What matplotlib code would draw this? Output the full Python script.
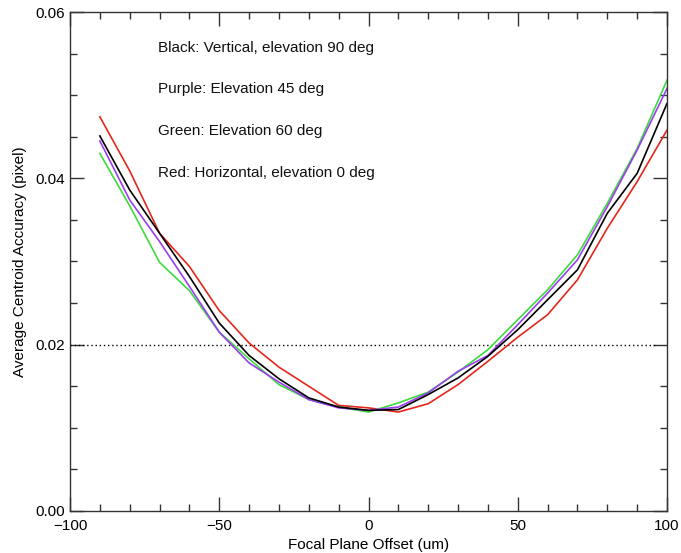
import matplotlib
matplotlib.use("Agg")
import matplotlib.pyplot as plt
from matplotlib.ticker import MultipleLocator

plt.rcParams['font.family'] = ['Liberation Sans', 'DejaVu Sans']

offset = [-90, -80, -70, -60, -50, -40, -30, -20, -10, 0, 10, 20, 30, 40, 50, 60, 70, 80, 90, 100]

black = [0.0451, 0.0386, 0.0334, 0.0282, 0.0226, 0.0187, 0.0159, 0.0136, 0.0125, 0.0121,
         0.0122, 0.0140, 0.0160, 0.0186, 0.0218, 0.0254, 0.0290, 0.0358, 0.0406, 0.0490]
purple = [0.0445, 0.0374, 0.0324, 0.0270, 0.0215, 0.0178, 0.0155, 0.0134, 0.0124, 0.0121,
          0.0125, 0.0142, 0.0168, 0.0187, 0.0224, 0.0262, 0.0302, 0.0366, 0.0434, 0.0508]
green = [0.0430, 0.0367, 0.0299, 0.0265, 0.0215, 0.0183, 0.0152, 0.0134, 0.0125, 0.0119,
         0.0130, 0.0143, 0.0167, 0.0194, 0.0230, 0.0266, 0.0308, 0.0370, 0.0436, 0.0518]
red = [0.0474, 0.0409, 0.0334, 0.0294, 0.0241, 0.0202, 0.0173, 0.0150, 0.0127, 0.0124,
       0.0119, 0.0129, 0.0152, 0.0180, 0.0209, 0.0236, 0.0278, 0.0340, 0.0396, 0.0458]

notes = ["Black: Vertical, elevation 90 deg",
         "Purple: Elevation 45 deg",
         "Green: Elevation 60 deg",
         "Red: Horizontal, elevation 0 deg"]
note_y = [0.0557, 0.0507, 0.0457, 0.0407]

xticks = [-100, -50, 0, 50, 100]
xticklabels = ['\u2212100', '\u221250', '0', '50', '100']
yticks = [0.0, 0.02, 0.04, 0.06]
yticklabels = ['0.00', '0.02', '0.04', '0.06']

fig = plt.figure(figsize=(6.81, 5.53), dpi=100)
ax = fig.add_axes([70/681, 1 - 511/553, 597/681, 499/553])

ax.plot([-100, 96], [0.02, 0.02], color='black', linestyle=(0, (1, 2)), linewidth=1.0)
ax.plot(offset, red, color='#e5261c', linewidth=1.2)
ax.plot(offset, green, color='#3cdc3c', linewidth=1.2)
ax.plot(offset, purple, color='#9a3ef0', linewidth=1.2)
ax.plot(offset, black, color='black', linewidth=1.2)

for t, yy in zip(notes, note_y):
    ax.text(-70.5, yy, t, fontsize=11, va='center', ha='left', color='#111111')

ax.set_xlim(-100, 100)
ax.set_ylim(0, 0.06)
ax.set_xticks(xticks)
ax.set_xticklabels(xticklabels)
ax.xaxis.set_minor_locator(MultipleLocator(10))
ax.set_yticks(yticks)
ax.set_yticklabels(yticklabels)
ax.yaxis.set_minor_locator(MultipleLocator(0.005))
ax.tick_params(which='both', direction='in', top=True, right=True, labelsize=11, color='#333333')
ax.tick_params(which='major', length=10, width=1)
ax.tick_params(which='minor', length=5, width=1)
ax.tick_params(axis='x', pad=6)
for s in ax.spines.values():
    s.set_color('#333333')
    s.set_linewidth(1.0)

ax.set_xlabel('Focal Plane Offset (um)', fontsize=11, labelpad=3)
ax.set_ylabel('Average Centroid Accuracy (pixel)', fontsize=11, labelpad=6)

fig.savefig('out.png', dpi=100)
